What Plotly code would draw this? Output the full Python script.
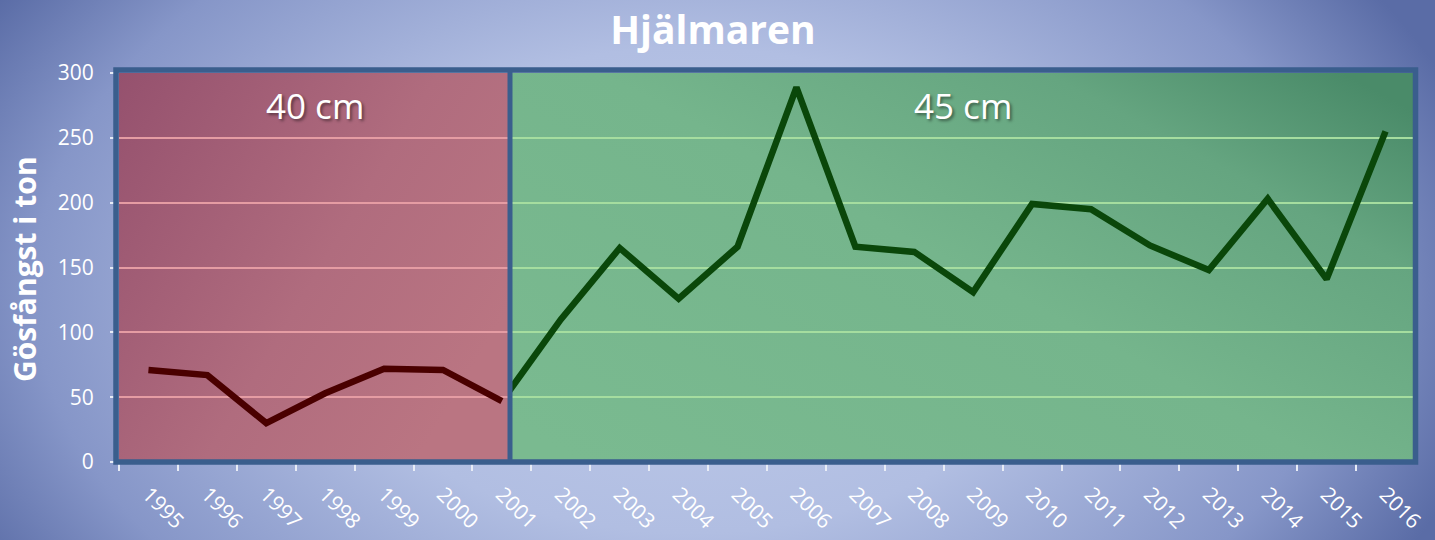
import base64
import plotly.graph_objects as go

# ---- data ----
years = [str(y) for y in range(1995, 2017)]
red_years = years[:7]                      # 1995-2001 (40 cm)
red_vals = [71, 67, 30, 53, 72, 71, 47]
green_years = years[6:]                    # 2001-2016 (45 cm)
green_vals = [47, 110, 165, 126, 166, 289, 166, 162, 131, 199, 195, 167, 148, 203, 141, 255]
y_ticks = [0, 50, 100, 150, 200, 250, 300]
region_labels = ["40 cm", "45 cm"]
title_text = "Hjälmaren"
y_title = "Gösfångst i ton"

# ---- geometry ----
W, H = 1435, 540
L, R, T, B = 119, 1415, 73, 462
PW, PH = R - L, B - T
n = len(years)
split = (510 - L) * n / PW - 0.5          # boundary in category index units
d = (split + 0.5) / n                      # paper x of boundary


def px2x(px):
    return (px - L) / PW


def px2y(py):
    return (B - py) / PH


def svg_uri(svg):
    return "data:image/svg+xml;base64," + base64.b64encode(svg.encode()).decode()


bg_svg = f'''<svg xmlns="http://www.w3.org/2000/svg" width="{W}" height="{H}" viewBox="0 0 {W} {H}" preserveAspectRatio="none">
<defs><radialGradient id="g" gradientUnits="userSpaceOnUse" cx="0" cy="0" r="1"
 gradientTransform="translate(690 290) scale(820 540)">
<stop offset="0" stop-color="#c0cbea"/><stop offset="0.45" stop-color="#b1bee2"/>
<stop offset="0.8" stop-color="#8696c8"/><stop offset="1" stop-color="#5a6ca6"/>
</radialGradient></defs>
<rect width="{W}" height="{H}" fill="url(#g)"/></svg>'''

red_svg = '''<svg xmlns="http://www.w3.org/2000/svg" width="400" height="400" viewBox="0 0 400 400" preserveAspectRatio="none">
<defs><linearGradient id="g" x1="0" y1="0" x2="1" y2="0.6">
<stop offset="0" stop-color="#95516e"/><stop offset="0.6" stop-color="#b06c7e"/>
<stop offset="1" stop-color="#ba7582"/></linearGradient></defs>
<rect width="400" height="400" fill="url(#g)"/></svg>'''

green_svg = '''<svg xmlns="http://www.w3.org/2000/svg" width="900" height="400" viewBox="0 0 900 400" preserveAspectRatio="none">
<defs><linearGradient id="g" x1="0" y1="0.9" x2="1" y2="0.1">
<stop offset="0" stop-color="#7aba90"/><stop offset="0.5" stop-color="#75b58c"/>
<stop offset="0.8" stop-color="#65a580"/><stop offset="1" stop-color="#4a8b69"/></linearGradient></defs>
<rect width="900" height="400" fill="url(#g)"/></svg>'''

fig = go.Figure()
fig.add_trace(go.Scatter(x=red_years, y=red_vals, mode="lines", xaxis="x", yaxis="y",
                         line=dict(color="#4a0000", width=6.5), hoverinfo="skip"))
fig.add_trace(go.Scatter(x=green_years, y=green_vals, mode="lines", xaxis="x2", yaxis="y2",
                         line=dict(color="#0a470a", width=6.5), hoverinfo="skip"))

tickfont = dict(family="Open Sans", size=21, color="white")
xcommon = dict(type="category", categoryorder="array", categoryarray=years,
               tickson="boundaries", ticks="outside", ticklen=8, tickcolor="#e8ecf6",
               tickwidth=1.5, tickangle=45, tickfont=tickfont, showgrid=False,
               ticklabelstandoff=15, automargin=False,
               zeroline=False, showline=False, fixedrange=True)
ycommon = dict(range=[0, 300], tickvals=y_ticks, zeroline=False, showline=False,
               gridwidth=1.5, fixedrange=True, automargin=False)

fig.update_layout(
    width=W, height=H, autosize=False,
    margin=dict(l=L, r=W - R, t=T, b=H - B, autoexpand=False),
    paper_bgcolor="#8a9bcb",
    plot_bgcolor="rgba(0,0,0,0)",
    showlegend=False,
    title=dict(text=f"<b>{title_text}</b>", x=713 / W,
               xanchor="center", y=1 - 30 / H, yanchor="middle",
               font=dict(family="Open Sans", size=39, color="white")),
    xaxis=dict(domain=[0, d], range=[-0.5, split], **xcommon),
    xaxis2=dict(domain=[d, 1], range=[split, n - 0.5], anchor="y2", **xcommon),
    yaxis=dict(domain=[0, 1], ticks="outside", ticklen=8, tickcolor="#e8ecf6", tickwidth=1.5,
               tickfont=dict(family="Open Sans", size=21, color="white"),
               ticklabelstandoff=12,
               gridcolor="#e59ca3", anchor="x", **ycommon),
    yaxis2=dict(domain=[0, 1], matches="y", showticklabels=False, ticks="",
                gridcolor="#a5dd9f", anchor="x2", **ycommon),
    images=[
        dict(source=svg_uri(bg_svg), xref="paper", yref="paper", x=px2x(0), y=px2y(0),
             sizex=W / PW, sizey=H / PH, sizing="stretch", xanchor="left", yanchor="top",
             layer="below"),
        dict(source=svg_uri(red_svg), xref="paper", yref="paper", x=0, y=1,
             sizex=d, sizey=1, sizing="stretch", xanchor="left", yanchor="top", layer="below"),
        dict(source=svg_uri(green_svg), xref="paper", yref="paper", x=d, y=1,
             sizex=1 - d, sizey=1, sizing="stretch", xanchor="left", yanchor="top", layer="below"),
    ],
    shapes=[
        dict(type="rect", xref="paper", yref="paper", x0=px2x(116), x1=px2x(1415.5),
             y0=px2y(462), y1=px2y(70), line=dict(color="#3a5e8d", width=5.5), layer="above"),
        dict(type="line", xref="paper", yref="paper", x0=d, x1=d, y0=px2y(462), y1=px2y(70),
             line=dict(color="#3a5e8d", width=5), layer="above"),
    ],
    annotations=[
        dict(text=region_labels[0], xref="paper", yref="paper", x=d / 2, y=px2y(105),
             xanchor="center", yanchor="middle", showarrow=False,
             font=dict(family="Open Sans", size=35, color="white",
                       shadow="2px 2px 3px rgba(0,0,0,0.45)")),
        dict(text=region_labels[1], xref="paper", yref="paper", x=(d + 1) / 2, y=px2y(105),
             xanchor="center", yanchor="middle", showarrow=False,
             font=dict(family="Open Sans", size=35, color="white",
                       shadow="2px 2px 3px rgba(0,0,0,0.45)")),
        dict(text=f"<b>{y_title}</b>", xref="paper", yref="paper", x=px2x(24), y=px2y(269),
             xanchor="center", yanchor="middle", textangle=-90, showarrow=False,
             font=dict(family="Open Sans", size=30, color="white")),
    ],
)

fig.write_html("out.html", config={"displayModeBar": False, "responsive": False},
               post_script="document.body.style.margin='0';document.body.style.overflow='hidden';")
